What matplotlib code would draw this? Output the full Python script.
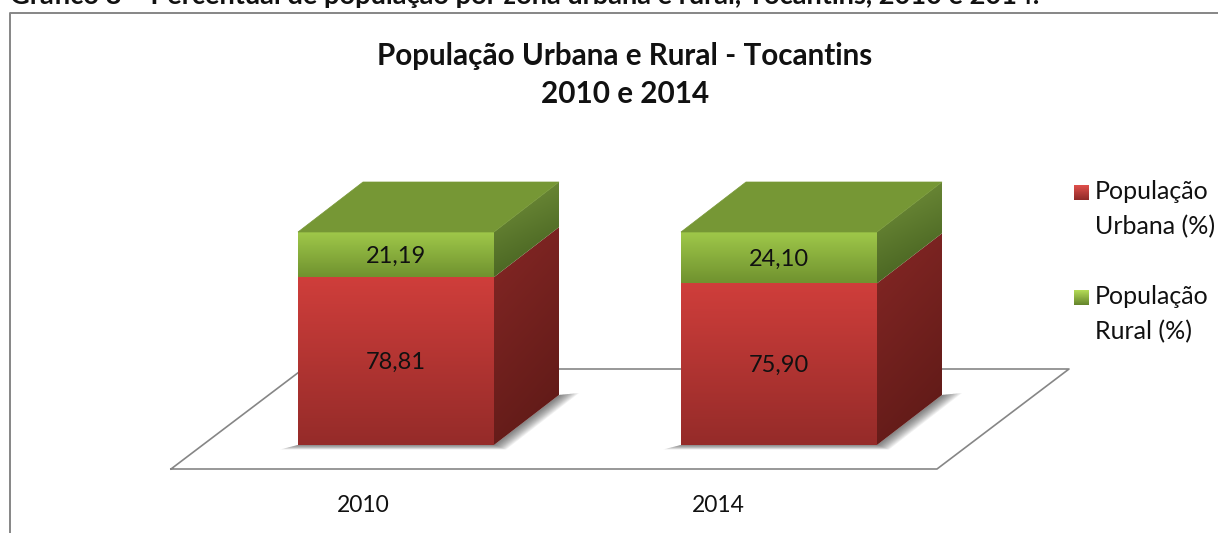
import numpy as np
import matplotlib
matplotlib.use("Agg")
import matplotlib.pyplot as plt
from matplotlib.patches import Polygon
from matplotlib.colors import LinearSegmentedColormap as LSC

years = ["2010", "2014"]
urbana = [78.81, 75.90]
rural = [21.19, 24.10]
urbana_labels = ["78,81", "75,90"]
rural_labels = ["21,19", "24,10"]
legend_labels = ["População\nUrbana (%)", "População\nRural (%)"]
title = "População Urbana e Rural - Tocantins\n2010 e 2014"
caption = "Gráfico 8 – Percentual de população por zona urbana e rural, Tocantins, 2010 e 2014."

W, H = 1218, 533
plt.rcParams["font.family"] = ["Lato", "DejaVu Sans"]
fig = plt.figure(figsize=(W / 100, H / 100), dpi=100, facecolor="white")
ax = fig.add_axes([0, 0, 1, 1])
ax.axis("off")

# data scale: categories at 0, 1; percent 0..100
PXX, PXY = 383.0, 2.13
X0, Y0 = 396.0, 445.0
xl = (-X0 / PXX, (W - X0) / PXX)
yl = ((Y0 - H) / PXY, Y0 / PXY)
BW = 196 / PXX
DX, DY = 65 / PXX, 50 / PXY


def px(x, y):
    return ((x - X0) / PXX, (Y0 - y) / PXY)


def grad(poly, c1, c2, diag=False, z=2):
    poly = np.array(poly)
    x0, x1 = poly[:, 0].min(), poly[:, 0].max()
    y0, y1 = poly[:, 1].min(), poly[:, 1].max()
    cm = LSC.from_list("g", [c1, c2])
    n = 128
    xx, yy = np.meshgrid(np.linspace(0, 1, n), np.linspace(0, 1, n))
    g = yy
    if diag:
        g = 0.25 * xx + 0.75 * yy
    im = ax.imshow(g, extent=(x0, x1, y0, y1), origin="upper", cmap=cm, aspect="auto",
                   zorder=z, interpolation="bilinear")
    p = Polygon(poly, closed=True, transform=ax.transData, fc="none", ec="none")
    ax.add_patch(p)
    im.set_clip_path(p)


# outer frame (open on the right and at the bottom)
frame = "#868686"
ax.plot(*zip(px(10, 533), px(10, 13), px(1218, 13)), color=frame, lw=1.4, zorder=1)

# floor
floor = [(171, 469), (937, 469), (1069, 369), (303, 369), (171, 469)]
ax.plot(*zip(*[px(*p) for p in floor]), color=frame, lw=1.2, zorder=1)

for i, (u, r) in enumerate(zip(urbana, rural)):
    l, rr = i - BW / 2, i + BW / 2
    t = u + r
    # soft shadow
    for k in range(12):
        s = k * 1.6
        sh = [(rr, 0), (rr + DX, DY), (rr + DX + (20 - s) / PXX, DY + (2 - s * .1) / PXY),
              (rr + (12 - s * .6) / PXX, -(4.5 - s * .25) / PXY), (l - (18 - s) / PXX, -(4.5 - s * .25) / PXY), (l, 0)]
        ax.add_patch(Polygon(sh, closed=True, fc="#303030", ec="none", alpha=0.065, zorder=1.5))
    # front
    grad([(l, 0), (rr, 0), (rr, u), (l, u)], "#cf3e3b", "#952b29")
    grad([(l, u), (rr, u), (rr, t), (l, t)], "#a0c94a", "#70922f")
    # sides
    grad([(rr, 0), (rr + DX, DY), (rr + DX, u + DY), (rr, u)], "#852725", "#5c1916", diag=True)
    grad([(rr, u), (rr + DX, u + DY), (rr + DX, t + DY), (rr, t)], "#75933c", "#3f5a1c", diag=True, z=2.1)
    # top
    ax.add_patch(Polygon([(l, t), (rr, t), (rr + DX, t + DY), (l + DX, t + DY)], closed=True,
                         fc="#769735", ec="#769735", lw=0.5, zorder=2.2))
    ax.text(i, u / 2 - 0.6, urbana_labels[i], ha="center", va="center", fontsize=17, color="#111111", zorder=3)
    ax.text(i, u + r / 2 - 0.6, rural_labels[i], ha="center", va="center", fontsize=17, color="#111111", zorder=3)

# category labels sit left of the bars, as in the reference
for lab, xp in zip(years, [363, 718]):
    ax.text(*px(xp, 505.5), lab, ha="center", va="center", fontsize=16.5, color="#111111")

# title, caption
ax.text(*px(625, 75), title, ha="center", va="center", fontsize=21.3, fontweight="bold",
        color="#111111", linespacing=1.42)
ax.text(*px(10, 4), caption, ha="left", va="baseline", fontsize=19.6, fontweight="bold", color="#111111")

# legend
cols = [("#e0504c", "#8e2a28"), ("#b5dc58", "#64842b")]
ys = [192, 297]
for c, y, lab in zip(cols, ys, legend_labels):
    grad([px(1074, y - 7), px(1089, y - 7), px(1089, y + 8), px(1074, y + 8)], c[0], c[1])
    ax.text(*px(1095, y - 12), lab, ha="left", va="top", fontsize=18, color="#111111", linespacing=1.6)

ax.set_xlim(*xl)
ax.set_ylim(*yl)
fig.savefig("out.png", dpi=100)
